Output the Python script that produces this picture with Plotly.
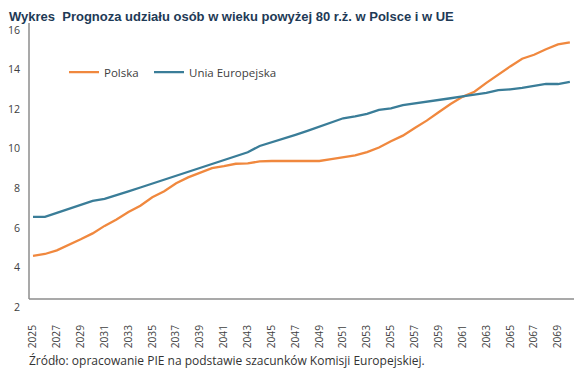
import plotly.graph_objects as go

years = list(range(2025, 2071))

polska = [4.58, 4.68, 4.86, 5.12, 5.42, 5.72, 6.10, 6.42, 6.80, 7.12,
          7.55, 7.85, 8.25, 8.55, 8.78, 9.02, 9.12, 9.24, 9.26, 9.36,
          9.38, 9.38, 9.38, 9.38, 9.38, 9.47, 9.57, 9.66, 9.83, 10.06,
          10.38, 10.66, 11.05, 11.42, 11.84, 12.26, 12.62, 12.88, 13.33, 13.76,
          14.16, 14.55, 14.75, 15.03, 15.27, 15.38]

ue = [6.56, 6.56, 6.76, 6.96, 7.16, 7.36, 7.46, 7.64, 7.84, 8.04,
      8.24, 8.44, 8.64, 8.84, 9.04, 9.22, 9.42, 9.62, 9.82, 10.14,
      10.32, 10.50, 10.70, 10.90, 11.12, 11.32, 11.54, 11.64, 11.76, 11.96,
      12.04, 12.20, 12.28, 12.37, 12.46, 12.55, 12.64, 12.73, 12.82, 12.96,
      13.00, 13.08, 13.18, 13.28, 13.27, 13.38]

x_ticks = list(range(2025, 2070, 2))
y_ticks = [2, 4, 6, 8, 10, 12, 14, 16]

title_text = "Wykres  Prognoza udziału osób w wieku powyżej 80 r.ż. w Polsce i w UE"
source_text = "Źródło: opracowanie PIE na podstawie szacunków Komisji Europejskiej."

FONT = "Open Sans"
TITLE_FONT = "Liberation Sans"
GREY = "#404040"

PLOT_W = 551
PLOT_H = 284

fig = go.Figure()
fig.add_trace(go.Scatter(x=years, y=polska, mode="lines", name="Polska",
                         line=dict(color="#F0883E", width=2.3), legend="legend"))
fig.add_trace(go.Scatter(x=years, y=ue, mode="lines", name="Unia Europejska",
                         line=dict(color="#3A7D98", width=2.3), legend="legend2"))

axis_floor = 2.404
fig.add_shape(type="line", xref="paper", yref="y", x0=0, x1=1, y0=axis_floor, y1=axis_floor,
              line=dict(color="#8c8c8c", width=1.5))
fig.add_shape(type="line", xref="paper", yref="paper", x0=0, x1=0, y0=(axis_floor - 2) / (16.354 - 2), y1=1,
              line=dict(color="#8c8c8c", width=1.5))

leg_common = dict(orientation="h", xanchor="left", y=0.827, yanchor="middle",
                  font=dict(family=FONT, size=11.5, color=GREY),
                  bgcolor="rgba(0,0,0,0)")

fig.update_layout(
    width=582, height=373,
    margin=dict(l=21, r=10, t=15, b=74, autoexpand=False),
    paper_bgcolor="white", plot_bgcolor="white",
    font=dict(family=FONT, size=11, color=GREY),
    showlegend=True,
    legend=dict(x=35 / PLOT_W, **leg_common),
    legend2=dict(x=120 / PLOT_W, **leg_common),
    xaxis=dict(range=[2024.665, 2070.85], tickmode="array", tickvals=x_ticks,
               ticktext=[str(v) for v in x_ticks], tickangle=-90, automargin=False,
               showgrid=False, zeroline=False, showline=False, ticks="",
               ticklabelstandoff=15, tickfont=dict(family=FONT, size=10.2, color=GREY)),
    yaxis=dict(range=[2, 16.354], tickmode="array", tickvals=y_ticks,
               ticktext=[str(v) for v in y_ticks], automargin=False,
               showgrid=False, zeroline=False, showline=False, ticks="",
               ticklabelstandoff=8, tickfont=dict(family=FONT, size=10.6, color=GREY)),
    annotations=[
        dict(text="<b>" + title_text + "</b>", xref="paper", yref="paper",
             x=-21 / PLOT_W, y=1 + 15 / PLOT_H, xanchor="left", yanchor="top",
             borderpad=0, showarrow=False,
             font=dict(family=TITLE_FONT, size=13, color="#1E3A56")),
        dict(text=source_text, xref="paper", yref="paper",
             x=-2 / PLOT_W, y=-53 / PLOT_H, xanchor="left", yanchor="middle",
             showarrow=False, font=dict(family=FONT, size=12, color="#333333")),
    ],
)

fig.write_html("out.html")
